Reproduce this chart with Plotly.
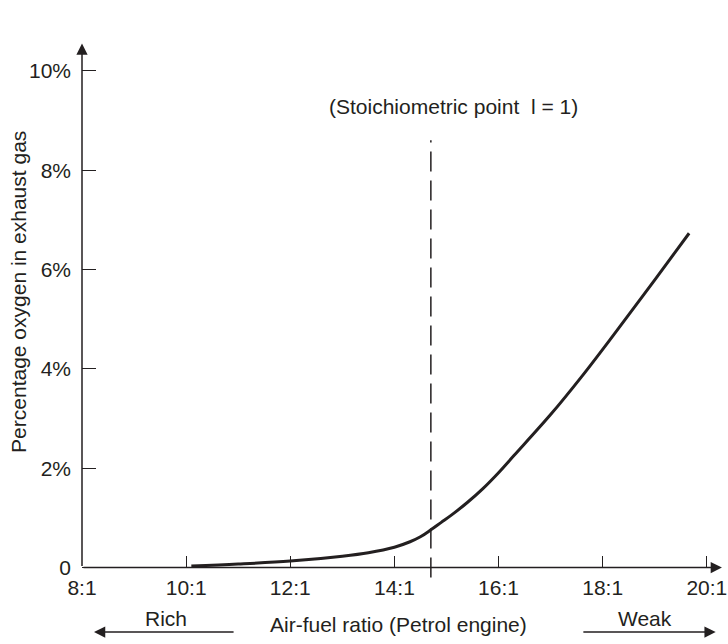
import plotly.graph_objects as go

# ---- data ----
air_fuel_ratio = [10.1, 11.0, 12.0, 13.0, 13.5, 14.0, 14.3, 14.5, 14.7, 14.9, 15.1, 15.4, 15.7,
                  16.0, 16.3, 17.0, 17.6, 18.2, 18.8, 19.4, 19.66]
oxygen_pct = [0.03, 0.07, 0.13, 0.23, 0.30, 0.41, 0.52, 0.62, 0.76, 0.91, 1.06, 1.31, 1.59,
              1.91, 2.26, 3.08, 3.85, 4.67, 5.51, 6.36, 6.73]
stoich_ratio = 14.7
stoich_top = 8.6

x_tick_vals = [8, 10, 12, 14, 16, 18, 20]
x_tick_labels = ["8:1", "10:1", "12:1", "14:1", "16:1", "18:1", "20:1"]
y_tick_vals = [0, 2, 4, 6, 8, 10]
y_tick_labels = ["0", "2%", "4%", "6%", "8%", "10%"]

# ---- styling ----
INK = "#231f20"
FONT = "Liberation Sans, Arial, Helvetica, sans-serif"
FS = 21
x_range = [8, 20.33]
y_range = [-0.25, 10.6]
tf = dict(size=FS, color=INK, family=FONT)

fig = go.Figure()
fig.add_trace(go.Scatter(
    x=air_fuel_ratio, y=oxygen_pct, mode="lines",
    line=dict(color=INK, width=3, shape="spline", smoothing=1.0),
    showlegend=False, hoverinfo="skip",
))

# stoichiometric dashed line
fig.add_shape(type="line", xref="x", yref="y",
              x0=stoich_ratio, x1=stoich_ratio, y0=-0.2, y1=stoich_top,
              line=dict(color=INK, width=1.5, dash="20px,9px"))

arrow = dict(showarrow=True, arrowhead=2, arrowsize=1.5, arrowwidth=1.5,
             arrowcolor=INK, text="")
ann = []
# axis lines with arrowheads
ann.append(dict(x=x_range[1] - 0.04, y=0, ax=x_range[0], ay=0, xref="x", yref="y",
                axref="x", ayref="y", **arrow))
ann.append(dict(x=x_range[0], y=10.55, ax=x_range[0], ay=0, xref="x", yref="y",
                axref="x", ayref="y", **arrow))
# stoichiometric label
ann.append(dict(x=15.14, y=9.29, xref="x", yref="y", showarrow=False,
                xanchor="center", yanchor="middle",
                text="(Stoichiometric point  l = 1)", font=tf))
# x title and Rich / Weak (below plot -> paper y)
ann.append(dict(x=14.08, y=-0.083, xref="x", yref="paper", showarrow=False,
                xanchor="center", yanchor="middle",
                text="Air-fuel ratio (Petrol engine)", font=tf))
ann.append(dict(x=9.61, y=-0.072, xref="x", yref="paper", showarrow=False,
                xanchor="center", yanchor="middle", text="Rich", font=tf))
ann.append(dict(x=18.82, y=-0.072, xref="x", yref="paper", showarrow=False,
                xanchor="center", yanchor="middle", text="Weak", font=tf))
ann.append(dict(x=8.23, y=-0.0965, ax=10.94, ay=0, xref="x", yref="paper",
                axref="x", ayref="pixel", **arrow))
ann.append(dict(x=20.17, y=-0.0965, ax=17.6, ay=0, xref="x", yref="paper",
                axref="x", ayref="pixel", **arrow))
# y title
ann.append(dict(x=-0.0981, y=5.55, xref="paper", yref="y", showarrow=False, textangle=-90,
                xanchor="center", yanchor="middle",
                text="Percentage oxygen in exhaust gas", font=tf))

x_axis_pos = (0 - y_range[0]) / (y_range[1] - y_range[0])

fig.update_layout(
    width=728, height=644,
    margin=dict(l=82, r=4, t=41, b=64, autoexpand=False),
    paper_bgcolor="white", plot_bgcolor="white",
    font=dict(family=FONT, size=FS, color=INK),
    annotations=ann,
    xaxis=dict(range=x_range, tickvals=x_tick_vals, ticktext=x_tick_labels,
               ticks="inside", ticklen=12, tickwidth=1.3, tickcolor=INK,
               showgrid=False, zeroline=False, showline=False,
               anchor="free", position=x_axis_pos, ticklabelstandoff=5,
               ticklabeloverflow="allow",
               tickfont=tf, fixedrange=True),
    yaxis=dict(range=y_range, tickvals=y_tick_vals, ticktext=y_tick_labels,
               ticks="inside", ticklen=14, tickwidth=1.3, tickcolor=INK,
               showgrid=False, zeroline=False, showline=False,
               ticklabelstandoff=10, ticklabeloverflow="allow",
               tickfont=tf, fixedrange=True),
)

fig.write_html("out.html", config={"displayModeBar": False},
               post_script="document.body.style.margin='0';")
